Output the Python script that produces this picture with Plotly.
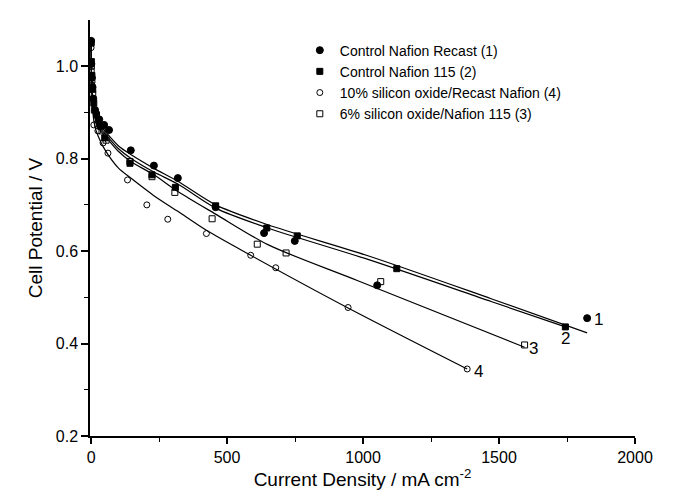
import plotly.graph_objects as go

# measured points (current density mA/cm2, cell potential V)
recast_x = [0, 1, 3, 5, 8, 15, 30, 48, 66, 146, 231, 319, 458, 636, 749, 1052, 1824]
recast_y = [1.055, 1.005, 0.975, 0.955, 0.93, 0.905, 0.885, 0.873, 0.862, 0.818, 0.785, 0.758, 0.695, 0.639, 0.622, 0.526, 0.455]

n115_x = [0, 1, 3, 6, 10, 20, 35, 50, 143, 224, 310, 458, 646, 758, 1124, 1744]
n115_y = [1.05, 1.01, 0.98, 0.95, 0.92, 0.895, 0.87, 0.845, 0.79, 0.765, 0.738, 0.698, 0.650, 0.633, 0.562, 0.436]

si10_x = [0, 1, 3, 6, 10, 25, 44, 62, 134, 205, 282, 424, 587, 679, 945, 1383]
si10_y = [1.04, 0.99, 0.96, 0.93, 0.873, 0.86, 0.834, 0.812, 0.754, 0.700, 0.669, 0.638, 0.591, 0.564, 0.478, 0.345]

si6_x = [0, 1, 3, 6, 12, 25, 40, 55, 143, 224, 308, 445, 611, 717, 1065, 1594]
si6_y = [1.052, 1.0, 0.97, 0.94, 0.905, 0.875, 0.86, 0.84, 0.794, 0.761, 0.727, 0.670, 0.615, 0.596, 0.534, 0.397]

# fitted curves
fit1_x = [0, 1, 3, 6, 12, 25, 50, 100, 146, 231, 319, 458, 650, 1018, 1471, 1824]
fit1_y = [1.06, 1.0, 0.96, 0.93, 0.90, 0.877, 0.86, 0.828, 0.809, 0.779, 0.751, 0.700, 0.657, 0.590, 0.497, 0.423]
fit2_x = [0, 1, 3, 6, 12, 25, 50, 100, 146, 231, 319, 458, 650, 1018, 1471, 1744]
fit2_y = [1.06, 1.0, 0.96, 0.93, 0.898, 0.872, 0.855, 0.822, 0.801, 0.771, 0.745, 0.693, 0.650, 0.582, 0.491, 0.436]
fit3_x = [0, 1, 3, 6, 12, 25, 50, 100, 146, 231, 319, 458, 650, 981, 1594]
fit3_y = [1.06, 1.0, 0.955, 0.925, 0.895, 0.868, 0.85, 0.816, 0.794, 0.765, 0.729, 0.680, 0.614, 0.536, 0.392]
fit4_x = [0, 1, 3, 6, 12, 25, 50, 100, 146, 231, 319, 424, 587, 945, 1383]
fit4_y = [1.06, 0.99, 0.94, 0.905, 0.875, 0.85, 0.82, 0.78, 0.758, 0.720, 0.686, 0.645, 0.591, 0.477, 0.345]

curve_labels = ["1", "2", "3", "4"]
label_x = [1867, 1744, 1625, 1425]
label_y = [0.451, 0.410, 0.390, 0.340]

FONT = "Liberation Sans, Arial, sans-serif"

fig = go.Figure()

for fx, fy in [(fit1_x, fit1_y), (fit2_x, fit2_y), (fit3_x, fit3_y), (fit4_x, fit4_y)]:
    fig.add_trace(go.Scatter(
        x=fx, y=fy, mode="lines", showlegend=False, hoverinfo="skip",
        line=dict(color="black", width=1.2, shape="spline", smoothing=0.8),
    ))

series = [
    ("Control Nafion Recast (1)", recast_x, recast_y, "circle", 7),
    ("Control Nafion 115 (2)", n115_x, n115_y, "square", 6),
    ("10% silicon oxide/Recast Nafion (4)", si10_x, si10_y, "circle-open", 6),
    ("6% silicon oxide/Nafion 115 (3)", si6_x, si6_y, "square-open", 6),
]
for name, sx, sy, sym, size in series:
    fig.add_trace(go.Scatter(
        x=sx, y=sy, mode="markers", name=name,
        marker=dict(symbol=sym, size=size, color="black", line=dict(color="black", width=1)),
    ))

for t, lx, ly in zip(curve_labels, label_x, label_y):
    fig.add_annotation(x=lx, y=ly, text=t, showarrow=False,
                       font=dict(family=FONT, size=17, color="black"))

fig.update_layout(
    width=673, height=496,
    margin=dict(l=82, r=46, t=12, b=68),
    paper_bgcolor="white", plot_bgcolor="white",
    font=dict(family=FONT, color="black"),
    legend=dict(x=0.385, y=0.965, xanchor="left", yanchor="top",
                font=dict(size=14), bgcolor="rgba(0,0,0,0)", tracegroupgap=0),
)
fig.update_xaxes(
    range=[-4, 2000], showgrid=False, zeroline=False,
    showline=True, linecolor="black", linewidth=1.5,
    tickvals=[0, 500, 1000, 1500, 2000], ticks="outside", ticklen=6, tickwidth=1.5,
    tickcolor="black", tickfont=dict(size=16),
    minor=dict(tickvals=[250, 750, 1250, 1750], ticks="outside", ticklen=4, tickwidth=1.2, tickcolor="black"),
    title=dict(text="Current Density / mA cm<sup>-2</sup>", font=dict(size=19), standoff=8),
)
fig.update_yaxes(
    range=[0.2, 1.1], showgrid=False, zeroline=False,
    showline=True, linecolor="black", linewidth=1.5,
    tickvals=[0.2, 0.4, 0.6, 0.8, 1.0], ticktext=["0.2", "0.4", "0.6", "0.8", "1.0"],
    ticks="outside", ticklen=7, tickwidth=1.5, tickcolor="black", tickfont=dict(size=16),
    minor=dict(tickvals=[0.3, 0.5, 0.7, 0.9], ticks="outside", ticklen=4, tickwidth=1.2, tickcolor="black"),
    title=dict(text="Cell Potential / V", font=dict(size=19), standoff=8),
)

fig.write_html("out.html")
